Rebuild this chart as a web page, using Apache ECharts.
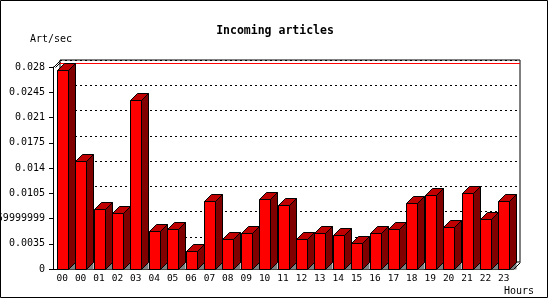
<!DOCTYPE html>
<html><head><meta charset="utf-8">
<script src="https://cdn.jsdelivr.net/npm/echarts@6/dist/echarts.min.js"></script>
<style>html,body{margin:0;padding:0;background:#fff}#c{width:550px;height:300px}</style>
</head><body><div id="c"></div>
<script>
const categories = ['00','00','01','02','03','04','05','06','07','08','09','10','11','12','13','14','15','16','17','18','19','20','21','22','23'];
const values = [0.02758,0.01491,0.00832,0.00776,0.02337,0.00527,0.00554,0.00250,0.00937,0.00416,0.00499,0.00970,0.00882,0.00416,0.00494,0.00471,0.00360,0.00499,0.00554,0.00915,0.01026,0.00582,0.01053,0.00693,0.00943];
const yTickLabels = ['0','0.0035','0.0069999999','0.0105','0.014','0.0175','0.021','0.0245','0.028'];
const yMax = 0.028, yStep = 0.0035;
const maxVal = Math.max.apply(null, values);

const FONT = 'DejaVu Sans Mono';
const D = 7, W = 11;
const chart = echarts.init(document.getElementById('c'));
function r(v){return Math.round(v)+0.5;}
chart.setOption({
  animation:false,
  title:{text:'Incoming articles',left:'center',top:20,textStyle:{fontFamily:FONT,fontSize:11.5,fontWeight:'bold',color:'#000'}},
  grid:[
    {left:53,top:67,width:460,height:202,show:false,containLabel:false,outerBoundsMode:'none'},
    {left:60,top:60,width:460,height:202,show:true,borderColor:'#000',borderWidth:1,backgroundColor:'transparent',containLabel:false,outerBoundsMode:'none'}
  ],
  xAxis:[
    {type:'category',gridIndex:0,data:categories,
     axisLine:{lineStyle:{color:'#000',width:1}},
     axisTick:{length:4,lineStyle:{color:'#000'}},
     axisLabel:{color:'#000',fontFamily:FONT,fontSize:9.5,margin:5,interval:0},
     splitLine:{show:false}},
    {type:'value',gridIndex:1,min:0,max:1,show:false}
  ],
  yAxis:[
    {type:'value',gridIndex:0,min:0,max:yMax,interval:yStep,
     axisLine:{show:true,lineStyle:{color:'#000',width:1}},
     axisTick:{show:true,length:4,lineStyle:{color:'#000'}},
     axisLabel:{color:'#000',fontFamily:FONT,fontSize:10,margin:8,hideOverlap:false,
       formatter:function(v){return yTickLabels[Math.round(v/yStep)];}},
     splitLine:{show:false}},
    {type:'value',gridIndex:1,min:0,max:yMax,interval:yStep,
     axisLine:{show:false},axisTick:{show:false},axisLabel:{show:false},
     splitLine:{show:true,lineStyle:{color:'#000',type:[2,3],width:1}}}
  ],
  series:[
    {type:'custom',xAxisIndex:1,yAxisIndex:1,data:[maxVal],z:1,
     renderItem:function(params,api){
       const a=api.coord([0,api.value(0)]), b=api.coord([1,api.value(0)]);
       return {type:'line',shape:{x1:a[0],y1:r(a[1]),x2:b[0],y2:r(a[1])},style:{stroke:'#ff0000',lineWidth:1}};
     }},
    {type:'custom',xAxisIndex:0,yAxisIndex:0,z:3,
     data:values.map(function(v,i){return [i,v];}),
     renderItem:function(params,api){
       const top=api.coord([api.value(0),api.value(1)]);
       const bot=api.coord([api.value(0),0]);
       const x0=r(top[0]-W/2), x1=x0+W, yt=r(top[1]), yb=r(bot[1]);
       return {type:'group',children:[
         {type:'polygon',shape:{points:[[x1,yb],[x1+D,yb],[x1+D,yb-D]]},style:{fill:'#808080'}},
         {type:'polygon',shape:{points:[[x1,yb],[x1,yt],[x1+D,yt-D],[x1+D,yb-D]]},style:{fill:'#800000',stroke:'#000',lineWidth:1}},
         {type:'polygon',shape:{points:[[x0,yt],[x1,yt],[x1+D,yt-D],[x0+D,yt-D]]},style:{fill:'#c00000',stroke:'#000',lineWidth:1}},
         {type:'rect',shape:{x:x0,y:yt,width:W,height:yb-yt},style:{fill:'#ff0000',stroke:'#000',lineWidth:1}}
       ]};
     }}
  ]
});
const gx0=53, gx1=513, gy0=67, gy1=269;
chart.setOption({graphic:[
  {type:'rect',shape:{x:0.5,y:0.5,width:547,height:297},style:{fill:'none',stroke:'#000',lineWidth:1},z:10},
  {type:'line',shape:{x1:gx0+0.5,y1:gy0+0.5,x2:gx0+D+0.5,y2:gy0-D+0.5},style:{stroke:'#000',lineWidth:1},z:10},
  {type:'line',shape:{x1:gx0+2.5,y1:gy0+0.5,x2:gx0+D+0.5,y2:gy0-D+2.5},style:{stroke:'#000',lineWidth:1},z:10},
  {type:'line',shape:{x1:gx1+0.5,y1:gy1+0.5,x2:gx1+D+0.5,y2:gy1-D+0.5},style:{stroke:'#000',lineWidth:1},z:10},
  {type:'text',left:30,top:34,style:{text:'Art/sec',font:'10px "DejaVu Sans Mono"',fill:'#000'}},
  {type:'text',left:504,top:286,style:{text:'Hours',font:'10px "DejaVu Sans Mono"',fill:'#000'}}
]});
</script></body></html>
